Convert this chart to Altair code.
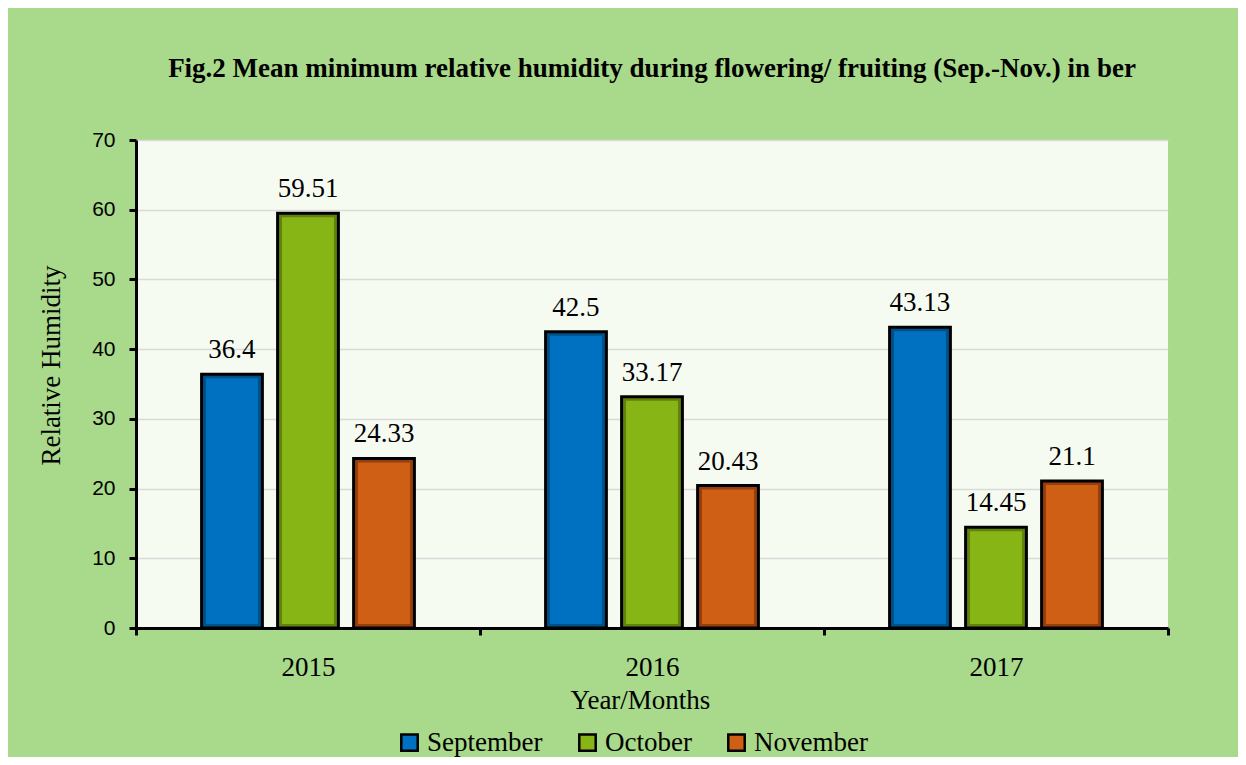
import altair as alt
import pandas as pd

years = ["2015", "2016", "2017"]
months = ["September", "October", "November"]
september = [36.4, 42.5, 43.13]
october = [59.51, 33.17, 14.45]
november = [24.33, 20.43, 21.1]
colors = ["#0070c0", "#88b516", "#cf5f15"]
edge_colors = ["#00508a", "#62820f", "#963f0c"]

rows = []
for i, yr in enumerate(years):
    for m, vals in zip(months, [september, october, november]):
        rows.append({"year": yr, "month": m, "value": vals[i], "label": f"{vals[i]:g}"})
df = pd.DataFrame(rows)

SERIF = "Liberation Serif"
SANS = "Liberation Sans"
FS = 27

x_enc = alt.X(
    "year:N",
    sort=years,
    scale=alt.Scale(paddingInner=0, paddingOuter=0),
    axis=alt.Axis(
        tickBand="extent",
        domainColor="black", domainWidth=3,
        tickColor="black", tickWidth=3, tickSize=7,
        labelFont=SERIF, labelFontSize=FS, labelColor="black",
        labelPadding=19, labelAngle=0,
        title="Year/Months", titleFont=SERIF, titleFontSize=FS,
        titleFontWeight="normal", titleColor="black", titlePadding=7,
        titleX=504,
        grid=False,
    ),
)
y_enc = alt.Y(
    "value:Q",
    scale=alt.Scale(domain=[0, 70], nice=False),
    axis=alt.Axis(
        values=[0, 10, 20, 30, 40, 50, 60, 70],
        grid=True, gridColor="#d9d9d9", gridWidth=1.5,
        domainColor="black", domainWidth=3,
        tickColor="black", tickWidth=3, tickSize=7,
        labelFont=SANS, labelFontSize=21, labelColor="black", labelPadding=14,
        title="Relative Humidity", titleFont=SERIF, titleFontSize=FS,
        titleFontWeight="normal", titleColor="black", titlePadding=26,
        titleY=225,
    ),
)

base = alt.Chart(df)

# outer bar: darker bevel edge with black outline
bars_edge = base.mark_bar(stroke="black", strokeWidth=3, opacity=1).encode(
    x=x_enc,
    xOffset=alt.XOffset(
        "month:N", sort=months,
        scale=alt.Scale(paddingInner=0.2, paddingOuter=0.863),
    ),
    y=y_enc,
    color=alt.Color(
        "month:N", sort=months,
        scale=alt.Scale(domain=months, range=edge_colors),
        legend=None,
    ),
)

labels = base.mark_text(
    font=SERIF, fontSize=FS, color="black", baseline="alphabetic", dy=-16
).encode(
    x=alt.X("year:N", sort=years),
    xOffset=alt.XOffset("month:N", sort=months),
    y=alt.Y("value:Q"),
    text="label:N",
)

# inner face of the bar (narrower sub-bands, top inset)
bars_face = base.mark_bar(yOffset=4, y2Offset=-4, opacity=1).encode(
    x=alt.X("year:N", sort=years),
    xOffset=alt.XOffset(
        "month:N", sort=months,
        scale=alt.Scale(paddingInner=0.316, paddingOuter=0.921),
    ),
    y=alt.Y("value:Q"),
    y2=alt.datum(0),
    color=alt.Color(
        "month:N", sort=months,
        scale=alt.Scale(domain=months, range=colors),
        legend=alt.Legend(
            orient="none", legendX=260, legendY=589, direction="horizontal",
            title=None, symbolType="square", symbolSize=270,
            symbolStrokeColor="black", symbolStrokeWidth=2.5, symbolOpacity=1,
            labelFont=SERIF, labelFontSize=FS, labelColor="black",
            labelOffset=4, columnPadding=31,
        ),
    ),
)

chart = (
    alt.layer(alt.layer(bars_edge, labels), bars_face)
    .resolve_scale(color="independent", xOffset="independent")
    .properties(
        width=1032,
        height=488,
        autosize=alt.AutoSizeParams(type="none"),
        padding={"left": 128, "top": 132, "right": 70, "bottom": 129},
        background="#a9d98a",
        title=alt.TitleParams(
            "Fig.2 Mean minimum relative humidity during flowering/ fruiting (Sep.-Nov.) in ber",
            font=SERIF, fontSize=FS, fontWeight="bold", color="black",
            anchor="middle", offset=46,
        ),
    )
    .configure_view(fill="#f6fbf2", strokeWidth=0)
)

chart.save("out.html", embed_options={"renderer": "svg", "actions": False})
